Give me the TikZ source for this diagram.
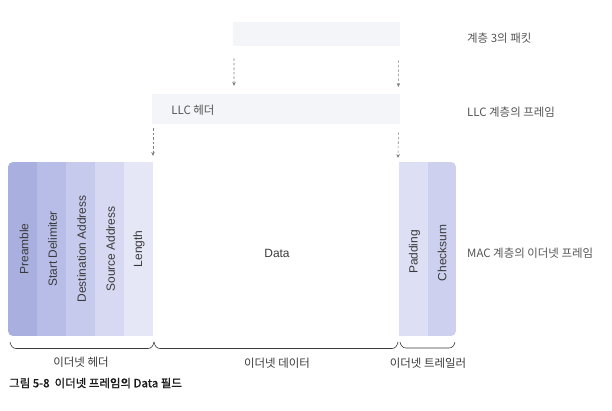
\documentclass[tikz,border=0pt]{standalone}
\usepackage{fontspec}
\setmainfont{Liberation Sans}
\newfontfamily\kr{Noto Sans CJK KR}
\newfontfamily\krcap[FakeBold=1.2]{Noto Sans CJK KR}
\usetikzlibrary{arrows.meta}
\definecolor{cA}{HTML}{A9B0DF}
\definecolor{cB}{HTML}{B7BDE6}
\definecolor{cC}{HTML}{C6CAEC}
\definecolor{cD}{HTML}{D6D9F1}
\definecolor{cE}{HTML}{E5E7F6}
\definecolor{cP}{HTML}{DDE0F4}
\definecolor{cQ}{HTML}{CDD1EF}
\definecolor{faint}{HTML}{F4F5F9}
\definecolor{txt}{HTML}{3A3A3A}
\definecolor{lbl}{HTML}{555555}
\definecolor{arrc}{HTML}{808080}
\tikzset{
  collabel/.style={rotate=90, font=\fontsize{12}{14}\selectfont, text=txt, inner sep=0pt},
  krlabel/.style={font=\kr\fontsize{11.5}{13}\selectfont, text=lbl, inner sep=0pt},
  sidelabel/.style={krlabel, anchor=west},
  dasharrow/.style={draw=arrc, line width=0.6bp, dash pattern=on 2.5bp off 2bp, -{Stealth[length=4bp,width=3.5bp]}},
  bracket/.style={draw=txt, line width=0.6bp},
  faintbox/.style={fill=faint, draw=none, inner sep=0pt},
}
\begin{document}
\begin{tikzpicture}[x=1bp,y=-1bp]
\useasboundingbox (0,0) rectangle (612,410);
% faint upper boxes
\node[faintbox, minimum width=167bp, minimum height=24bp, anchor=north west] (pkt) at (233,22) {};
\node[faintbox, minimum width=248bp, minimum height=30bp, anchor=north west] (llc) at (152,94) {};
% side labels
\node[sidelabel] (pktlbl) at (467,38) {계층 3의 패킷};
\node[krlabel] (llchdr) at (193,110) {LLC 헤더};
\node[sidelabel] (llclbl) at (467,112) {LLC 계층의 프레임};
\node[sidelabel] (maclbl) at (467,253) {MAC 계층의 이더넷 프레임};
% MAC frame columns
\begin{scope}
\clip[rounded corners=5bp] (8,162) rectangle (456,336);
\fill[cA] (8,162) rectangle (37,336);
\fill[cB] (37,162) rectangle (66,336);
\fill[cC] (66,162) rectangle (95,336);
\fill[cD] (95,162) rectangle (124,336);
\fill[cE] (124,162) rectangle (153,336);
\fill[cP] (399,162) rectangle (428,336);
\fill[cQ] (428,162) rectangle (456,336);
\end{scope}
\coordinate (hdrR) at (153,162);
\coordinate (trlL) at (399,162);
\node[collabel] (pre) at (24,249) {Preamble};
\node[collabel] (sd) at (52.5,249) {Start Delimiter};
\node[collabel] (da) at (81.5,249) {Destination Address};
\node[collabel] (sa) at (110.5,249) {Source Address};
\node[collabel] (len) at (139,249) {Length};
\node[font=\fontsize{12}{14}\selectfont, text=txt, inner sep=0pt] (data) at (277,253) {Data};
\node[collabel] (pad) at (414.5,252) {Padding};
\node[collabel] (chk) at (442,253) {Checksum};
% dashed arrows (negative yshift = downwards)
\draw[dasharrow] ([xshift=1bp,yshift=-12bp]pkt.south west) -- ([xshift=82bp,yshift=8bp]llc.north west);
\draw[dasharrow] ([xshift=-2bp,yshift=-14bp]pkt.south east) -- ([xshift=-2bp,yshift=7bp]llc.north east);
\draw[dasharrow] ([xshift=1bp,yshift=-4bp]llc.south west) -- ([yshift=6bp]hdrR);
\draw[dasharrow] ([xshift=-2bp,yshift=-8bp]llc.south east) -- ([xshift=-1bp,yshift=4bp]trlL);
% brackets
\coordinate (b1) at (10,342);
\coordinate (b2) at (154,342);
\coordinate (b3) at (398,342);
\coordinate (b4) at (455,342);
\draw[bracket] (b1) to[out=-80,in=180] ++(6,6.5) -- ([xshift=-6bp,yshift=-6.5bp]b2) to[out=0,in=-100] (b2);
\draw[bracket] (b2) to[out=-80,in=180] ++(6,6.5) -- ([xshift=-6bp,yshift=-6.5bp]b3) to[out=0,in=-100] (b3);
\draw[bracket] ([xshift=2bp]b3) to[out=-80,in=180] ++(6,6) -- ([xshift=-6bp,yshift=-6bp]b4) to[out=0,in=-100] (b4);
\node[krlabel, text=txt] (hdrlbl) at (81,362) {이더넷 헤더};
\node[krlabel, text=txt] (datalbl) at (277,363) {이더넷 데이터};
\node[krlabel, text=txt] (trllbl) at (428,363) {이더넷 트레일러};
% caption
\node[anchor=west, inner sep=0pt, font=\krcap\fontsize{11.5}{13}\selectfont, text=black!90] (cap) at (9,383) {그림 5-8\ \ 이더넷 프레임의 Data 필드};
\end{tikzpicture}
\end{document}
